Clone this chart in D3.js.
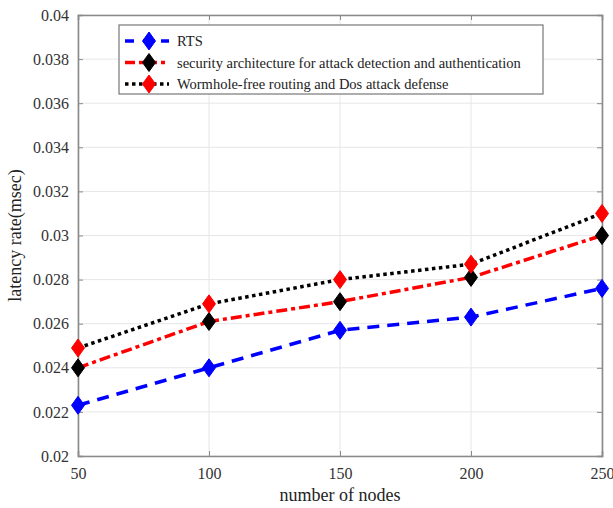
<!DOCTYPE html>
<html><head><meta charset="utf-8">
<script src="https://cdn.jsdelivr.net/npm/d3@7/dist/d3.min.js"></script>
<style>body{margin:0;background:#fff}svg{display:block}</style>
</head><body>
<svg id="c" width="613" height="508"></svg>
<script>
const nodes = [50, 100, 150, 200, 250];
const rts = [0.0223, 0.0240, 0.0257, 0.0263, 0.0276];
const security = [0.0240, 0.0261, 0.0270, 0.0281, 0.0300];
const wormhole = [0.0249, 0.0269, 0.0280, 0.0287, 0.0310];
const yTicks = [0.02, 0.022, 0.024, 0.026, 0.028, 0.03, 0.032, 0.034, 0.036, 0.038, 0.04];
const seriesNames = ["RTS", "security architecture for attack detection and authentication", "Wormhole-free routing and Dos attack defense"];

const svg = d3.select("#c");
const L = 78, R = 602, T = 15, B = 456;
const x = d3.scaleLinear().domain([50, 250]).range([L, R]);
const y = d3.scaleLinear().domain([0.02, 0.04]).range([B, T]);
const font = "Liberation Serif";

// grid
svg.append("g").selectAll("line.gx").data(nodes).join("line")
  .attr("x1", d => x(d)).attr("x2", d => x(d)).attr("y1", T).attr("y2", B)
  .attr("stroke", "#e6e6e6").attr("stroke-width", 1);
svg.append("g").selectAll("line.gy").data(yTicks).join("line")
  .attr("x1", L).attr("x2", R).attr("y1", d => y(d)).attr("y2", d => y(d))
  .attr("stroke", "#e6e6e6").attr("stroke-width", 1);

// axes
svg.append("g").attr("transform", `translate(0,${B})`)
  .call(d3.axisBottom(x).tickValues(nodes).tickSize(-5).tickPadding(12).tickFormat(d3.format("d")));
svg.append("g").attr("transform", `translate(${L},0)`)
  .call(d3.axisLeft(y).tickValues(yTicks).tickSize(-5).tickPadding(9).tickFormat(d => String(+d.toFixed(3))));
svg.append("g").attr("transform", `translate(0,${T})`)
  .call(d3.axisTop(x).tickValues(nodes).tickSize(-5).tickFormat(""));
svg.append("g").attr("transform", `translate(${R},0)`)
  .call(d3.axisRight(y).tickValues(yTicks).tickSize(-5).tickFormat(""));
svg.selectAll("g").attr("font-family", font);
svg.selectAll(".domain").attr("stroke", "#8a8a8a").attr("stroke-width", 1.6);
svg.selectAll(".tick line").attr("stroke", "#8a8a8a");
svg.selectAll(".tick text").attr("font-family", font).attr("font-size", 16).attr("fill", "#333");

// axis labels
svg.append("text").attr("x", (L + R) / 2).attr("y", 501).attr("text-anchor", "middle")
  .attr("font-family", font).attr("font-size", 18).attr("fill", "#222").text("number of nodes");
svg.append("text").attr("transform", `translate(21,${(T + B) / 2}) rotate(-90)`).attr("text-anchor", "middle")
  .attr("font-family", font).attr("font-size", 18).attr("fill", "#222").text("latency rate(msec)");

const diamond = (cx, cy, w, h) => `M${cx},${cy - h}L${cx + w},${cy}L${cx},${cy + h}L${cx - w},${cy}Z`;
const series = [
  { name: seriesNames[0], vals: rts, line: "#0000ff", dash: "12,8", marker: "#0000ff", mstroke: "#0000ff" },
  { name: seriesNames[1], vals: security, line: "#ff0000", dash: "11,4,4,4", marker: "#000000", mstroke: "#000000" },
  { name: seriesNames[2], vals: wormhole, line: "#000000", dash: "3.5,3.5", marker: "#ff0000", mstroke: "#ff0000" }
];
const lineGen = d3.line().x((d, i) => x(nodes[i])).y(d => y(d));
series.forEach(s => {
  svg.append("path").datum(s.vals).attr("d", lineGen).attr("fill", "none")
    .attr("stroke", s.line).attr("stroke-width", 3.5).attr("stroke-dasharray", s.dash);
});
series.forEach(s => {
  svg.append("g").selectAll("path").data(s.vals).join("path")
    .attr("d", (d, i) => diamond(x(nodes[i]), y(d), 6.5, 9))
    .attr("fill", s.marker).attr("stroke", s.mstroke).attr("stroke-width", 1);
});

// legend
const lg = svg.append("g");
lg.append("rect").attr("x", 119).attr("y", 25).attr("width", 424).attr("height", 69)
  .attr("fill", "#fff").attr("stroke", "#777").attr("stroke-width", 1.2);
series.forEach((s, i) => {
  const ly = 41 + i * 21.5;
  lg.append("line").attr("x1", 125).attr("x2", 169).attr("y1", ly).attr("y2", ly)
    .attr("stroke", s.line).attr("stroke-width", 3.5).attr("stroke-dasharray", i === 0 ? "9,9" : (i === 1 ? "10,4,4,4" : "3.5,3.5"));
  lg.append("path").attr("d", diamond(149, ly, 6.5, 9)).attr("fill", s.marker).attr("stroke", s.mstroke);
  lg.append("text").attr("x", 177).attr("y", ly + 5).attr("font-family", font)
    .attr("font-size", 14.5).attr("fill", "#222").text(s.name);
});
</script>
</body></html>
